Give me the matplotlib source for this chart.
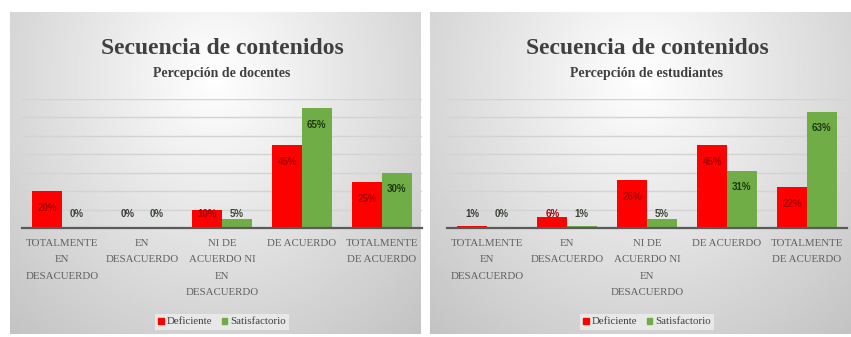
import numpy as np
import matplotlib.pyplot as plt
from matplotlib.patches import Patch

plt.rcParams['font.family'] = ['Liberation Serif', 'DejaVu Serif']

categorias = ['TOTALMENTE\nEN\nDESACUERDO', 'EN\nDESACUERDO',
              'NI DE\nACUERDO NI\nEN\nDESACUERDO', 'DE ACUERDO',
              'TOTALMENTE\nDE ACUERDO']
series = ['Deficiente', 'Satisfactorio']
docentes_deficiente = [20, 0, 10, 45, 25]
docentes_satisfactorio = [0, 0, 5, 65, 30]
estudiantes_deficiente = [1, 6, 26, 45, 22]
estudiantes_satisfactorio = [0, 1, 5, 31, 63]

ROJO = '#ff0000'
VERDE = '#70ad47'

W, H = 851, 337
fig = plt.figure(figsize=(W / 100, H / 100), dpi=100)
fig.patch.set_facecolor('white')


def fondo(x0, x1, y0, y1):
    # gradiente gris claro como en la diapositiva
    bg = fig.add_axes([x0 / W, 1 - y1 / H, (x1 - x0) / W, (y1 - y0) / H])
    yy, xx = np.mgrid[0:1:200j, 0:1:300j]
    r = np.sqrt(((xx - 0.5) / 0.7) ** 2 + ((yy - 0.2) / 1.0) ** 2)
    bg.imshow(np.clip(1 - 0.22 * r, 0, 1), cmap='gray', vmin=0, vmax=1,
              aspect='auto', extent=[0, 1, 1, 0], interpolation='bilinear')
    bg.axis('off')


def panel(x0, titulo, subtitulo, defi, sati):
    ax = fig.add_axes([x0 / W, (H - 228) / H, 400 / W, 129 / H])
    ax.set_facecolor('none')
    x = np.arange(len(categorias))
    w = 0.37
    ax.bar(x - w / 2, defi, w, color=ROJO, zorder=3)
    ax.bar(x + w / 2, sati, w, color=VERDE, zorder=3)
    ax.set_xlim(-0.5, 4.5)
    ax.set_ylim(0, 70)
    ax.set_yticks(range(10, 71, 10))
    ax.set_yticklabels([])
    ax.yaxis.grid(True, color='#d3d3d3', lw=1.0)
    ax.set_axisbelow(True)
    for s in ['top', 'right', 'left']:
        ax.spines[s].set_visible(False)
    ax.spines['bottom'].set_color('#5a5a5a')
    ax.spines['bottom'].set_linewidth(1.6)
    ax.spines['bottom'].set_zorder(4)
    ax.tick_params(length=0)
    ax.set_xticks(x)
    ax.set_xticklabels(categorias, fontsize=7.8, color='#606060', linespacing=2.05)
    ax.tick_params(axis='x', pad=8)

    for xi, v in zip(x, defi):
        col = '#a80000' if v >= 5 else '#3a3a3a'
        ax.text(xi - w / 2, max(v - 9, 7.7), f'{v}%', ha='center', va='center',
                fontsize=7, fontweight='bold', color=col, zorder=5,
                family='Liberation Sans')
    for xi, v in zip(x, sati):
        col = '#1c3a10' if v >= 16 else '#3b4636'
        ax.text(xi + w / 2, max(v - 9, 7.7), f'{v}%', ha='center', va='center',
                fontsize=7, fontweight='bold', color=col, zorder=5,
                family='Liberation Sans')

    cx = (x0 + 200) / W
    fig.text(cx, 1 - 48 / H, titulo, ha='center', va='center',
             fontsize=17, fontweight='bold', color='#404040')
    fig.text(cx, 1 - 74 / H, subtitulo, ha='center', va='center',
             fontsize=10, fontweight='bold', color='#404040')

    handles = [Patch(color=ROJO), Patch(color=VERDE)]
    leg = fig.legend(handles, series, loc='center', bbox_to_anchor=(cx, 1 - 322 / H),
                     ncol=2, frameon=True, fancybox=False, handlelength=0.5,
                     handleheight=0.5, handletextpad=0.25, columnspacing=0.9,
                     borderpad=0.35, prop={'size': 7.8})
    leg.get_frame().set_facecolor('#eeeeee')
    leg.get_frame().set_edgecolor('none')
    for t in leg.get_texts():
        t.set_color('#404040')
    return ax


fondo(10, 421, 12, 334)
fondo(430, 851, 12, 334)
panel(22, 'Secuencia de contenidos', 'Percepción de docentes',
      docentes_deficiente, docentes_satisfactorio)
panel(447, 'Secuencia de contenidos', 'Percepción de estudiantes',
      estudiantes_deficiente, estudiantes_satisfactorio)

fig.savefig('out.png', dpi=100)
